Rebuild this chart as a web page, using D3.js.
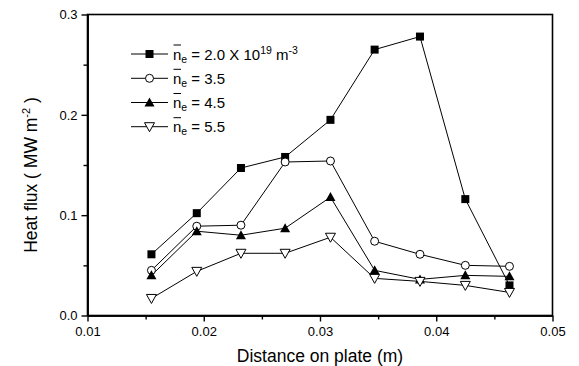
<!DOCTYPE html>
<html><head><meta charset="utf-8">
<script src="https://cdn.jsdelivr.net/npm/d3@7/dist/d3.min.js"></script>
<style>
body{margin:0;background:#fff;}
text{font-family:"Liberation Sans",Arial,Helvetica,sans-serif;fill:#000;}
</style></head>
<body><svg id="c" width="579" height="366"></svg>
<script>
const distance = [0.0155, 0.0194, 0.0232, 0.0270, 0.0309, 0.0347, 0.0386, 0.0425, 0.0463];
const flux20 = [0.061, 0.102, 0.147, 0.158, 0.195, 0.265, 0.278, 0.116, 0.030];
const flux35 = [0.045, 0.089, 0.090, 0.153, 0.154, 0.074, 0.061, 0.050, 0.049];
const flux45 = [0.040, 0.084, 0.080, 0.087, 0.118, 0.045, 0.036, 0.040, 0.039];
const flux55 = [0.017, 0.044, 0.062, 0.062, 0.078, 0.037, 0.034, 0.030, 0.023];
const seriesLabels = ["2.0 X 10", "3.5", "4.5", "5.5"];
const xTicks = [0.01, 0.02, 0.03, 0.04, 0.05];
const xMinor = [0.015, 0.025, 0.035, 0.045];
const yTicks = [0.0, 0.1, 0.2, 0.3];
const yMinor = [0.05, 0.15, 0.25];

const svg = d3.select("#c");
const L = 87.5, R = 552.5, T = 14.5, B = 315.5;
const x = d3.scaleLinear().domain([0.01, 0.05]).range([L, R]);
const y = d3.scaleLinear().domain([0, 0.3]).range([B, T]);

const series = [
  {v: flux20, m: "square"},
  {v: flux35, m: "circle"},
  {v: flux45, m: "triUp"},
  {v: flux55, m: "triDown"}
];

function marker(g, type, cx, cy) {
  if (type === "square") {
    g.append("rect").attr("x", cx - 4).attr("y", cy - 4).attr("width", 8).attr("height", 8).attr("fill", "#000");
  } else if (type === "circle") {
    g.append("circle").attr("cx", cx).attr("cy", cy).attr("r", 4).attr("fill", "#fff").attr("stroke", "#000").attr("stroke-width", 1);
  } else if (type === "triUp") {
    g.append("path").attr("d", `M${cx},${cy-5}L${cx+5},${cy+4}L${cx-5},${cy+4}Z`).attr("fill", "#000");
  } else {
    g.append("path").attr("d", `M${cx-5},${cy-4}L${cx+5},${cy-4}L${cx},${cy+5}Z`).attr("fill", "#fff").attr("stroke", "#000").attr("stroke-width", 1);
  }
}

// frame
svg.append("rect").attr("x", L).attr("y", T).attr("width", R - L).attr("height", B - T)
  .attr("fill", "none").attr("stroke", "#000").attr("stroke-width", 1.6);

// axes
const ax = svg.append("g").attr("transform", `translate(0,${B})`)
  .call(d3.axisBottom(x).tickValues(xTicks).tickFormat(d3.format(".2f")).tickSize(6).tickPadding(5).tickSizeOuter(0));
const axm = svg.append("g").attr("transform", `translate(0,${B})`)
  .call(d3.axisBottom(x).tickValues(xMinor).tickFormat("").tickSize(4).tickSizeOuter(0));
const ay = svg.append("g").attr("transform", `translate(${L},0)`)
  .call(d3.axisLeft(y).tickValues(yTicks).tickFormat(d3.format(".1f")).tickSize(6).tickPadding(4).tickSizeOuter(0));
const aym = svg.append("g").attr("transform", `translate(${L},0)`)
  .call(d3.axisLeft(y).tickValues(yMinor).tickFormat("").tickSize(4).tickSizeOuter(0));
[ax, axm, ay, aym].forEach(a => {
  a.select(".domain").attr("stroke", "#000").attr("stroke-width", 1.6);
  a.selectAll(".tick line").attr("stroke", "#000").attr("stroke-width", 1.4);
  a.selectAll(".tick text").style("font-size", "13px").style("font-family", '"Liberation Sans",Arial,sans-serif');
});

// axis titles
svg.append("text").attr("x", (L + R) / 2).attr("y", 362).attr("text-anchor", "middle")
  .style("font-size", "17.5px").text("Distance on plate (m)");
const yt = svg.append("text").attr("transform", "translate(37,175) rotate(-90)").attr("text-anchor", "middle")
  .style("font-size", "17.5px");
yt.append("tspan").text("Heat flux ( MW m");
yt.append("tspan").attr("dy", -7).style("font-size", "11px").text("-2");
yt.append("tspan").attr("dy", 7).text(" )");

// lines & markers
const line = d3.line().x((d, i) => x(distance[i])).y(d => y(d));
series.forEach(s => {
  svg.append("path").datum(s.v).attr("d", line).attr("fill", "none").attr("stroke", "#000").attr("stroke-width", 1);
});
series.forEach(s => {
  const g = svg.append("g");
  s.v.forEach((v, i) => marker(g, s.m, x(distance[i]), y(v)));
});

// legend
const legY = [54, 78.3, 102.5, 126.7];
series.forEach((s, k) => {
  const g = svg.append("g");
  const cy = legY[k];
  g.append("line").attr("x1", 131).attr("x2", 168).attr("y1", cy).attr("y2", cy).attr("stroke", "#000").attr("stroke-width", 1);
  marker(g, s.m, 149.5, cy);
  const tx = 173, base = cy + 5.5;
  g.append("line").attr("x1", tx + 0.5).attr("x2", tx + 8).attr("y1", cy - 9).attr("y2", cy - 9).attr("stroke", "#000").attr("stroke-width", 1);
  const t = g.append("text").attr("x", tx).attr("y", base).style("font-size", "15px");
  t.append("tspan").text("n");
  t.append("tspan").attr("dy", 3).style("font-size", "10.5px").text("e");
  t.append("tspan").attr("dy", -3).text(" = " + seriesLabels[k]);
  if (k === 0) {
    t.append("tspan").attr("dy", -6).style("font-size", "10.5px").text("19");
    t.append("tspan").attr("dy", 6).text(" m");
    t.append("tspan").attr("dy", -6).style("font-size", "10.5px").text("-3");
  }
});
</script></body></html>
